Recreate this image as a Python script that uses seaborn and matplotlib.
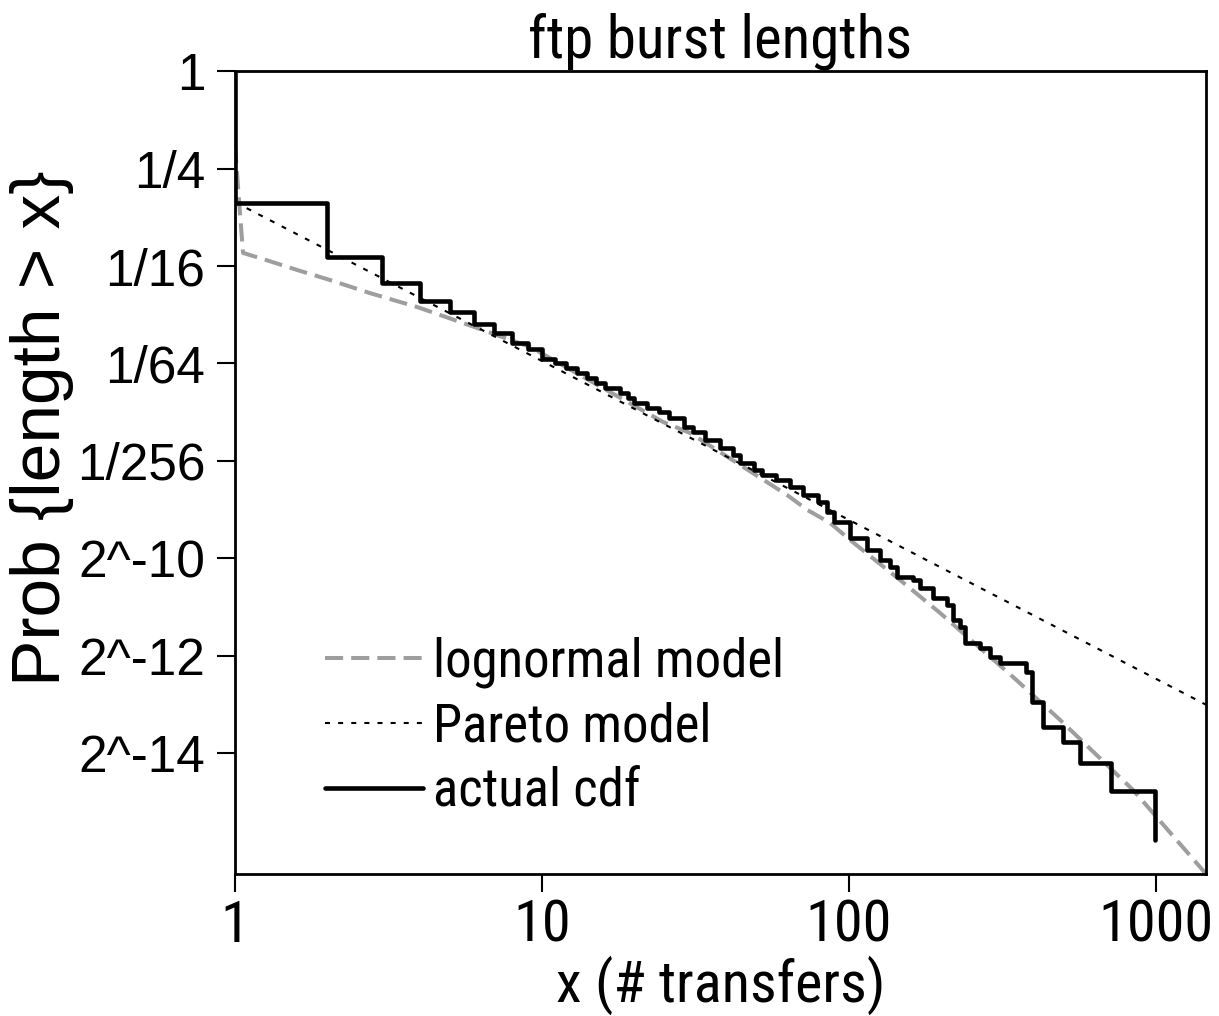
import matplotlib
matplotlib.use("Agg")
import matplotlib.pyplot as plt
import seaborn as sns
from matplotlib.ticker import NullLocator

# actual cdf: burst length where the survival curve steps, and P{length > x} after the step
cdf_x = [1, 1, 2, 3, 4, 5, 6, 7, 8, 9, 10, 11, 12, 13, 14, 15, 16,
         18, 19, 20, 22, 24, 26, 29, 31, 34, 38,
         42, 44, 49, 52, 58, 64, 71, 79, 85, 89,
         101, 114, 126, 136, 143, 162, 170, 188, 209, 218,
         230, 239, 267, 288, 310, 377, 395, 429, 498, 565,
         714, 992]
cdf_p = [1.0, 0.153, 0.0711, 0.0491, 0.0380, 0.0325, 0.0274, 0.0241, 0.0209, 0.0192,
         0.0167, 0.01574, 0.01466, 0.01365, 0.01272, 0.01184, 0.01103,
         0.01027, 0.00957, 0.00891, 0.00830, 0.00785, 0.00720, 0.00633, 0.00590, 0.00527, 0.00470,
         0.00425, 0.00380, 0.00344, 0.00320, 0.00298, 0.00270, 0.00241, 0.00218, 0.00189, 0.00164,
         0.00131, 0.00110, 0.000956, 0.000866, 0.000751, 0.000719, 0.000642, 0.000557, 0.000504, 0.000407,
         0.000369, 0.000294, 0.000273, 0.000241, 0.000221, 0.000194, 0.000127, 8.90e-5, 7.19e-5, 5.33e-5,
         3.58e-5, 1.79e-5]

# lognormal model
lognorm_x = [1.0, 1.03, 1.062, 1.234, 1.592, 2.039, 2.753, 3.915, 5.529, 7.135, 9.141,
             24.79, 30.35, 62.81, 73.0, 86.7, 100.8, 146.6, 197.9, 342.2, 486.8, 841.6, 1455]
lognorm_p = [0.349, 0.160, 0.0753, 0.0690, 0.0591, 0.0512, 0.0425, 0.0349, 0.0278, 0.0234, 0.0198,
             0.00680, 0.00582, 0.00241, 0.00195, 0.00162, 0.00127, 0.000719, 0.000450, 0.000181,
             9.83e-5, 3.63e-5, 1.10e-5]

# Pareto model (straight line on log-log axes)
pareto_x = [1, 1455]
pareto_p = [0.155, 1.22e-4]

x_ticks = [1, 10, 100, 1000]
x_tick_labels = ["1", "10", "100", "1000"]
y_ticks = [1, 1 / 4, 1 / 16, 1 / 64, 1 / 256, 2 ** -10, 2 ** -12, 2 ** -14]
y_tick_labels = ["1", "1/4", "1/16", "1/64", "1/256", "2^-10", "2^-12", "2^-14"]

sns.set_style("ticks")
NARROW = ["Roboto Condensed", "Liberation Sans", "DejaVu Sans"]
WIDE = ["Liberation Sans", "DejaVu Sans"]
plt.rcParams["font.family"] = NARROW
for key in ["text.color", "axes.labelcolor", "xtick.color", "ytick.color", "axes.edgecolor"]:
    plt.rcParams[key] = "black"

fig = plt.figure(figsize=(12.19, 10.16), dpi=100)
ax = fig.add_axes([0.1928, 0.1398, 0.7966, 0.7903])

sns.lineplot(x=lognorm_x, y=lognorm_p, ax=ax, color="#9e9e9e", linewidth=2.9,
             label="lognormal model", sort=False, estimator=None)
ax.lines[-1].set_dashes((4.5, 2.0))
sns.lineplot(x=pareto_x, y=pareto_p, ax=ax, color="black", linewidth=1.5,
             label="Pareto model", sort=False, estimator=None)
ax.lines[-1].set_dashes((2.4, 3.9))
sns.lineplot(x=cdf_x, y=cdf_p, ax=ax, color="black", linewidth=3.3,
             label="actual cdf", sort=False, estimator=None, drawstyle="steps-post")

ax.set_xscale("log")
ax.set_yscale("log", base=2)
ax.set_xlim(1, 1455)
ax.set_ylim(1.10e-5, 1)

ax.set_xticks(x_ticks)
ax.set_xticklabels(x_tick_labels, fontsize=42, family=NARROW)
ax.set_yticks(y_ticks)
ax.set_yticklabels(y_tick_labels, fontsize=37, family=WIDE)
ax.xaxis.set_minor_locator(NullLocator())
ax.yaxis.set_minor_locator(NullLocator())
ax.tick_params(axis="both", direction="out", length=13, width=1.5)
ax.tick_params(axis="x", pad=5)
ax.tick_params(axis="y", pad=8.5)

for spine in ax.spines.values():
    spine.set_linewidth(2.0)
    spine.set_visible(True)

ax.set_title("ftp burst lengths", fontsize=42.5, family=NARROW, pad=10)
ax.set_xlabel("x (# transfers)", fontsize=42, family=NARROW)
ax.xaxis.set_label_coords(0.5, -0.101)
ax.set_ylabel("Prob {length > x}", fontsize=50, family=WIDE)
ax.yaxis.set_label_coords(-0.166, 0.555)

ax.legend(loc="upper left", bbox_to_anchor=(0.0927, 0.2955), frameon=False,
          borderpad=0, borderaxespad=0, handlelength=1.85, handletextpad=0.2,
          labelspacing=0.26, prop={"family": NARROW, "size": 38})

fig.savefig("out.png", dpi=100)
plt.close(fig)
